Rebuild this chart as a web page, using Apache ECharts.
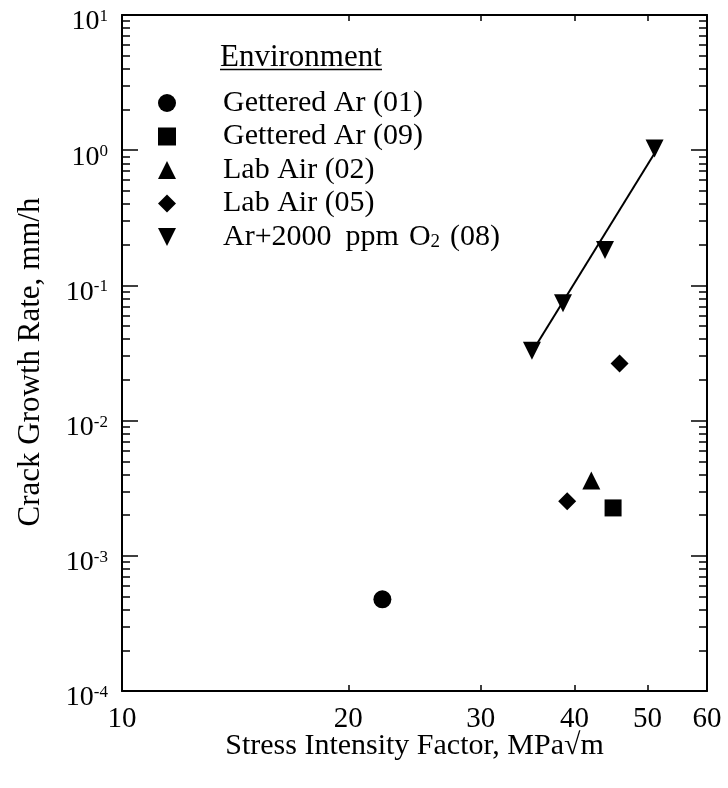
<!DOCTYPE html>
<html>
<head>
<meta charset="utf-8">
<script src="https://cdn.jsdelivr.net/npm/echarts@6/dist/echarts.min.js"></script>
<style>
  html, body { margin: 0; padding: 0; background: #fff; }
  #main { width: 728px; height: 788px; }
</style>
</head>
<body>
<div id="main"></div>
<script>
// data (K in MPa√m, da/dt in mm/h)
var getteredAr01 = [[22.2, 4.77e-4]];
var getteredAr09 = [[45.0, 2.26e-3]];
var labAir02 = [[42.1, 3.61e-3]];
var labAir05 = [[39.1, 2.53e-3], [45.9, 0.0264]];
var arO2K = [35.1, 38.6, 43.9, 51.1];
var arO2Rate = [0.0329, 0.0737, 0.183, 1.03];
var fitK = [35.1, 51.1];
var fitRate = [0.0322, 0.949];

// axis ticks
var xTickVals = [20, 30, 40, 50];
var xLabelVals = [10, 20, 30, 40, 50, 60];
var yDecades = [-4, -3, -2, -1, 0, 1];
var yMinorMult = [2, 3, 4, 5, 6, 7, 8, 9];

var font = "'Liberation Serif', 'DejaVu Serif', serif";
var black = '#000';

function lg(v) { return Math.log(v) / Math.LN10; }

var xMin = 10, xMax = 60;
var yMin = 1e-4, yMax = 10;

var yMinor = [];
yDecades.slice(0, -1).forEach(function (d) {
  yMinorMult.forEach(function (m) { yMinor.push(d + lg(m)); });
});

function pairs(xs, ys) {
  return xs.map(function (x, i) { return [x, ys[i]]; });
}

var myChart = echarts.init(document.getElementById('main'));

var frameLine = { show: true, onZero: false, lineStyle: { color: black, width: 2 } };

function tickAxis(pos, min, max, ticks, len, labels, line) {
  return {
    type: 'value',
    position: pos,
    min: min,
    max: max,
    axisLine: line ? frameLine : { show: false, onZero: false },
    splitLine: { show: false },
    axisTick: { show: true, inside: true, length: len, customValues: ticks,
      lineStyle: { color: black, width: 1.5 } },
    axisLabel: labels || { show: false },
    silent: true
  };
}

var yLabel = {
  show: true,
  customValues: yDecades,
  margin: 14,
  padding: [14, 0, 0, 0],
  formatter: function (v) { return '{b|10}{s|' + Math.round(v) + '}'; },
  rich: {
    b: { fontFamily: font, fontSize: 28, color: black },
    s: { fontFamily: font, fontSize: 17, color: black, verticalAlign: 'top' }
  }
};

var xLabel = {
  show: true,
  customValues: xLabelVals.map(lg),
  margin: 14,
  fontFamily: font,
  fontSize: 29,
  color: black,
  formatter: function (v) { return String(Math.round(Math.pow(10, v))); }
};

var option = {
  animation: false,
  backgroundColor: '#fff',
  title: {
    text: 'Environment',
    left: 220,
    top: 42,
    padding: 0,
    textStyle: { fontFamily: font, fontSize: 31, fontWeight: 'normal', color: black }
  },
  graphic: [{
    type: 'line', silent: true,
    shape: { x1: 220, y1: 69.5, x2: 382, y2: 69.5 },
    style: { stroke: black, lineWidth: 1.5 }
  }],
  legend: {
    orient: 'vertical',
    left: 153,
    top: 83,
    itemWidth: 18,
    itemHeight: 18,
    itemGap: 3.5,
    selectedMode: false,
    data: ['Gettered Ar (01)', 'Gettered Ar (09)', 'Lab Air (02)', 'Lab Air (05)', 'Ar+2000 ppm O2 (08)'],
    formatter: function (name) {
      if (name.indexOf('O2') < 0) return name;
      return 'Ar+{d|2000}{g| }ppm{g| }O{sub|2}{g| }(08)';
    },
    textStyle: {
      fontFamily: font, fontSize: 30, color: black, lineHeight: 30, padding: [0, 0, 0, 42],
      rich: {
        d: { fontFamily: font, fontSize: 30, color: black, lineHeight: 30, width: 64 },
        g: { fontFamily: font, fontSize: 30, color: black, lineHeight: 30, width: 10 },
        sub: { fontFamily: font, fontSize: 19, color: black, verticalAlign: 'bottom', lineHeight: 12 }
      }
    }
  },
  grid: { left: 122, top: 15, right: 21, bottom: 97 },
  xAxis: [
    {
      type: 'log', logBase: 10, min: xMin, max: xMax, position: 'bottom',
      name: 'Stress Intensity Factor, MPa\u221am',
      nameLocation: 'middle', nameGap: 40,
      nameTextStyle: { fontFamily: font, fontSize: 30, color: black },
      axisLine: frameLine,
      axisTick: { show: false }, axisLabel: { show: false }, splitLine: { show: false }
    },
    tickAxis('bottom', lg(xMin), lg(xMax), xTickVals.map(lg), 6, xLabel),
    tickAxis('top', lg(xMin), lg(xMax), xTickVals.map(lg), 6, null, true)
  ],
  yAxis: [
    {
      type: 'log', logBase: 10, min: yMin, max: yMax, position: 'left',
      name: 'Crack Growth Rate, mm/h',
      nameLocation: 'middle', nameGap: 76,
      nameTextStyle: { fontFamily: font, fontSize: 31, color: black, padding: [0, 18, 0, 0] },
      axisLine: frameLine,
      axisTick: { show: false }, axisLabel: { show: false }, splitLine: { show: false }
    },
    tickAxis('left', -4, 1, yDecades, 16, yLabel),
    tickAxis('left', -4, 1, yMinor, 8),
    tickAxis('right', -4, 1, yDecades, 16, null, true),
    tickAxis('right', -4, 1, yMinor, 8)
  ],
  series: [
    {
      name: 'Gettered Ar (01)', type: 'scatter', symbol: 'circle', symbolSize: 18,
      itemStyle: { color: black, opacity: 1 }, data: getteredAr01
    },
    {
      name: 'Gettered Ar (09)', type: 'scatter', symbol: 'rect', symbolSize: 17,
      itemStyle: { color: black, opacity: 1 }, data: getteredAr09
    },
    {
      name: 'Lab Air (02)', type: 'scatter', symbol: 'triangle', symbolSize: 18,
      itemStyle: { color: black, opacity: 1 }, data: labAir02
    },
    {
      name: 'Lab Air (05)', type: 'scatter', symbol: 'diamond', symbolSize: 18,
      itemStyle: { color: black, opacity: 1 }, data: labAir05
    },
    {
      name: 'Ar+2000 ppm O2 (08)', type: 'scatter', symbol: 'path://M0,0 L10,0 L5,10 Z', symbolSize: 18,
      itemStyle: { color: black, opacity: 1 }, data: pairs(arO2K, arO2Rate)
    },
    {
      name: 'fit', type: 'line', symbol: 'none', silent: true,
      lineStyle: { color: black, width: 2 }, data: pairs(fitK, fitRate)
    }
  ]
};

myChart.setOption(option);
</script>
</body>
</html>
